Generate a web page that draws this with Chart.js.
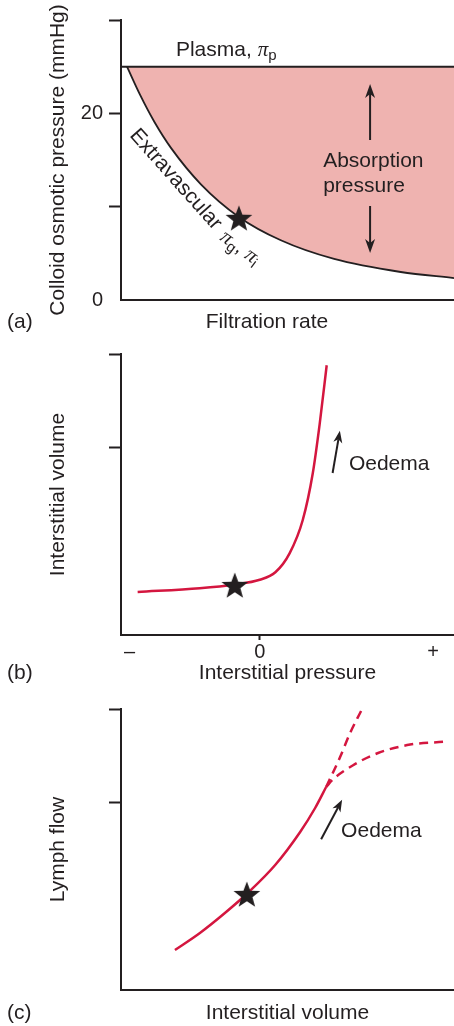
<!DOCTYPE html>
<html><head><meta charset="utf-8">
<script src="https://cdn.jsdelivr.net/npm/chart.js@4.4.0/dist/chart.umd.min.js"></script>
<style>
html,body{margin:0;padding:0;background:#fff;width:454px;height:1026px;overflow:hidden}
canvas{position:absolute;left:0}
</style></head><body>
<canvas id="ca" width="454" height="340" style="top:0px"></canvas>
<canvas id="cb" width="454" height="350" style="top:340px"></canvas>
<canvas id="cc" width="454" height="336" style="top:690px"></canvas>
<script>
// ---------- data (a) ----------
const filtrationRate = [1.8, 5.7, 10, 15, 24, 35.4, 48, 64, 84, 100];
const extravascularPressure = [25, 22.0, 19.1, 16.3, 12.4, 8.9, 6.4, 4.4, 3.0, 2.35];
const plasmaRate = [0, 100];
const plasmaPressure = [25, 25];
const starARate = [35.4];
const starAPressure = [8.8];
const pressureTicksA = [0, 10, 20, 30];
const pressureLabelsA = ['0', '', '20', ''];

// ---------- data (b) ----------
const interstitialPressure = [-3.52, -1.73, -0.72, 0, 0.45, 0.86, 1.24, 1.53, 1.73, 1.93];
const interstitialVolumeB = [4.6, 5.0, 5.4, 5.9, 6.7, 8.72, 12.28, 17.3, 22.6, 28.8];
const starBPressure = [-0.72];
const starBVolume = [5.34];
const pressureTickValues = [-3.75, 0, 5];
const pressureTickLabels = ['\u2013', '0', '+'];
const volumeTicksB = [20, 30];

// ---------- data (c) ----------
const interstitialVolumeC = [16.2, 23.7, 31.2, 38.7, 46.3, 53.8, 58.3, 61.6];
const lymphFlow = [4.27, 6.09, 8.22, 10.57, 13.34, 16.87, 19.43, 21.67];
const oedemaSteepVolume = [61.6, 65.8, 68.8, 72.1];
const oedemaSteepFlow = [21.67, 24.87, 27.44, 29.79];
const oedemaPlateauVolume = [61.6, 63.7, 69.7, 77.2, 86.8, 96.7];
const oedemaPlateauFlow = [21.67, 22.5, 24.0, 25.3, 26.2, 26.5];
const starCVolume = [37.8];
const starCFlow = [10.25];
const flowTicksC = [20, 30];

// ---------- styling ----------
const INK = '#231f20';
const RED = '#d4163f';
const PINK = '#efb3b0';
const SANS = "'Liberation Sans', Arial, Helvetica, sans-serif";
const F_MAIN = "21px " + SANS;
const F_PI = "italic 21px 'Liberation Serif', 'Times New Roman', serif";
const F_SUB = "15px " + SANS;

function pts(xs, ys) { return xs.map((x, i) => ({x: x, y: ys[i]})); }

function starImage(r) {
  const s = Math.ceil(r * 2 + 2);
  const c = document.createElement('canvas');
  c.width = s; c.height = s;
  const g = c.getContext('2d');
  g.fillStyle = INK;
  g.beginPath();
  for (let i = 0; i < 10; i++) {
    const rr = i % 2 ? r * 0.42 : r;
    const a = -Math.PI / 2 + i * Math.PI / 5;
    g.lineTo(s / 2 + rr * Math.cos(a), s / 2 + rr * Math.sin(a) + r * 0.1);
  }
  g.closePath(); g.fill();
  return c;
}
const STAR = starImage(14);

function drawArrow(ctx, x1, y1, x2, y2, L, W) {
  const a = Math.atan2(y2 - y1, x2 - x1);
  ctx.strokeStyle = INK; ctx.fillStyle = INK; ctx.lineWidth = 2;
  ctx.beginPath(); ctx.moveTo(x1, y1);
  ctx.lineTo(x2 - Math.cos(a) * L * 0.7, y2 - Math.sin(a) * L * 0.7); ctx.stroke();
  ctx.save(); ctx.translate(x2, y2); ctx.rotate(a);
  ctx.beginPath(); ctx.moveTo(0, 0); ctx.lineTo(-L, W / 2); ctx.lineTo(-L * 0.72, 0); ctx.lineTo(-L, -W / 2);
  ctx.closePath(); ctx.fill(); ctx.restore();
}

function makeNotes(items) {
  return {
    id: 'notes',
    afterDraw(chart) {
      const ctx = chart.ctx, xs = chart.scales.x, ys = chart.scales.y;
      const X = v => xs.getPixelForValue(v), Y = v => ys.getPixelForValue(v);
      ctx.save();
      items.forEach(it => {
        if (it.arrow) {
          const h = it.head || [14, 10];
          drawArrow(ctx, X(it.arrow[0]), Y(it.arrow[1]), X(it.arrow[2]), Y(it.arrow[3]), h[0], h[1]);
          return;
        }
        const px = it.px ? it.px[0] : X(it.at[0]);
        const py = it.px ? it.px[1] : Y(it.at[1]);
        ctx.save();
        ctx.translate(px, py);
        if (it.rot) ctx.rotate(it.rot * Math.PI / 180);
        ctx.fillStyle = INK;
        ctx.textBaseline = it.base || 'alphabetic';
        ctx.textAlign = 'left';
        let total = 0;
        it.runs.forEach(r => { ctx.font = r.f || F_MAIN; total += ctx.measureText(r.t).width; });
        let cx = it.align === 'center' ? -total / 2 : 0;
        it.runs.forEach(r => {
          ctx.font = r.f || F_MAIN;
          ctx.fillText(r.t, cx, r.dy || 0);
          cx += ctx.measureText(r.t).width;
        });
        ctx.restore();
      });
      ctx.restore();
    }
  };
}

const tickFont = {family: SANS, size: 20};
const titleFont = {family: SANS, size: 21};

function yAxis(tickValues, labels, title, showLabels) {
  return {
    type: 'linear', min: 0, max: 30,
    afterBuildTicks: s => { s.ticks = tickValues.map(v => ({value: v})); },
    afterFit: s => { s.width = 121; },
    ticks: {
      display: showLabels, color: INK, font: tickFont, padding: 6,
      callback: (v, i) => labels ? labels[i] : ''
    },
    grid: {
      display: true, drawOnChartArea: false, drawTicks: true, tickLength: 12, tickWidth: 2,
      tickColor: c => (c.tick && c.tick.value === 0) ? 'rgba(0,0,0,0)' : INK
    },
    border: {display: true, color: INK, width: 2},
    title: {display: true, text: title, color: INK, font: titleFont, padding: {top: 45.4, bottom: 0}}
  };
}

function config(padTop, xAxis, yAx, datasets, notes) {
  return {
    type: 'line',
    data: {datasets: datasets},
    options: {
      responsive: false, animation: false, devicePixelRatio: 1,
      layout: {autoPadding: false, padding: {top: padTop, left: 0, right: 0, bottom: 0}},
      plugins: {legend: {display: false}, tooltip: {enabled: false}},
      scales: {x: xAxis, y: yAx},
      elements: {point: {radius: 0, hoverRadius: 0}}
    },
    plugins: [makeNotes(notes)]
  };
}

function starSet(xs, ys) {
  return {data: pts(xs, ys), showLine: false, pointStyle: STAR, pointRadius: 14, pointHoverRadius: 14, borderWidth: 0, clip: false};
}

// ---------- chart (a) ----------
new Chart(document.getElementById('ca'), config(20,
  {
    type: 'linear', min: 0, max: 100,
    afterFit: s => { s.height = 40; },
    ticks: {display: false}, grid: {display: false},
    border: {display: true, color: INK, width: 2}
  },
  yAxis(pressureTicksA, pressureLabelsA, 'Colloid osmotic pressure (mmHg)', true),
  [
    starSet(starARate, starAPressure),
    {data: pts(plasmaRate, plasmaPressure), borderColor: INK, borderWidth: 2, fill: false},
    {data: pts(filtrationRate, extravascularPressure), borderColor: INK, borderWidth: 1.8,
     cubicInterpolationMode: 'monotone', fill: {value: 25}, backgroundColor: PINK}
  ],
  [
    {at: [16.5, 26.14], runs: [{t: 'Plasma, '}, {t: '\u03c0', f: F_PI}, {t: 'p', f: F_SUB, dy: 4}]},
    {at: [60.7, 14.25], runs: [{t: 'Absorption'}]},
    {at: [60.7, 11.57], runs: [{t: 'pressure'}]},
    {arrow: [74.8, 17.14, 74.8, 23.14]},
    {arrow: [74.8, 10.07, 74.8, 5.04]},
    {at: [2.4, 17.6], rot: 48.3, runs: [{t: 'Extravascular'}]},
    {at: [29.4, 6.5], rot: 36, runs: [{t: '\u03c0', f: F_PI}, {t: 'g', f: F_SUB, dy: 4}, {t: ', '},
      {t: '\u03c0', f: F_PI}, {t: 'i', f: F_SUB, dy: 4}]},
    {px: [267, 322], align: 'center', base: 'middle', runs: [{t: 'Filtration rate'}]},
    {px: [7, 322], base: 'middle', runs: [{t: '(a)'}]}
  ]
));

// ---------- chart (b) ----------
new Chart(document.getElementById('cb'), config(14,
  {
    type: 'linear', min: -4, max: 5.6,
    afterBuildTicks: s => { s.ticks = pressureTickValues.map(v => ({value: v})); },
    afterFit: s => { s.height = 55; },
    ticks: {display: true, color: INK, font: tickFont, padding: 0, maxRotation: 0,
      callback: (v, i) => pressureTickLabels[i]},
    grid: {display: true, drawOnChartArea: false, drawTicks: true, tickLength: 5, tickWidth: 2,
      tickColor: c => (c.tick && c.tick.value === 0) ? INK : 'rgba(0,0,0,0)'},
    border: {display: true, color: INK, width: 2},
    title: {display: true, text: 'Interstitial pressure', color: INK, font: titleFont, padding: {top: 0, bottom: 4.4}}
  },
  yAxis(volumeTicksB, null, 'Interstitial volume', false),
  [
    starSet(starBPressure, starBVolume),
    {data: pts(interstitialPressure, interstitialVolumeB), borderColor: RED, borderWidth: 2.5,
     cubicInterpolationMode: 'monotone', fill: false}
  ],
  [
    {arrow: [2.10, 17.3, 2.31, 21.8], head: [12, 9]},
    {at: [2.57, 17.6], runs: [{t: 'Oedema'}]},
    {px: [7, 333], base: 'middle', runs: [{t: '(b)'}]}
  ]
));

// ---------- chart (c) ----------
new Chart(document.getElementById('cc'), config(19,
  {
    type: 'linear', min: 0, max: 100,
    afterFit: s => { s.height = 36; },
    ticks: {display: false}, grid: {display: false},
    border: {display: true, color: INK, width: 2},
    title: {display: true, text: 'Interstitial volume', color: INK, font: titleFont, padding: {top: 0, bottom: 0.4}}
  },
  yAxis(flowTicksC, null, 'Lymph flow', false),
  [
    starSet(starCVolume, starCFlow),
    {data: pts(interstitialVolumeC, lymphFlow), borderColor: RED, borderWidth: 2.5,
     cubicInterpolationMode: 'monotone', fill: false},
    {data: pts(oedemaSteepVolume, oedemaSteepFlow), borderColor: RED, borderWidth: 2.5, borderDash: [9, 6],
     cubicInterpolationMode: 'monotone', fill: false},
    {data: pts(oedemaPlateauVolume, oedemaPlateauFlow), borderColor: RED, borderWidth: 2.5, borderDash: [9, 6],
     cubicInterpolationMode: 'monotone', fill: false}
  ],
  [
    {arrow: [60.1, 16.1, 66.4, 20.3], head: [12, 9]},
    {at: [66.1, 16.3], runs: [{t: 'Oedema'}]},
    {px: [7, 323], base: 'middle', runs: [{t: '(c)'}]}
  ]
));
</script>
</body></html>
